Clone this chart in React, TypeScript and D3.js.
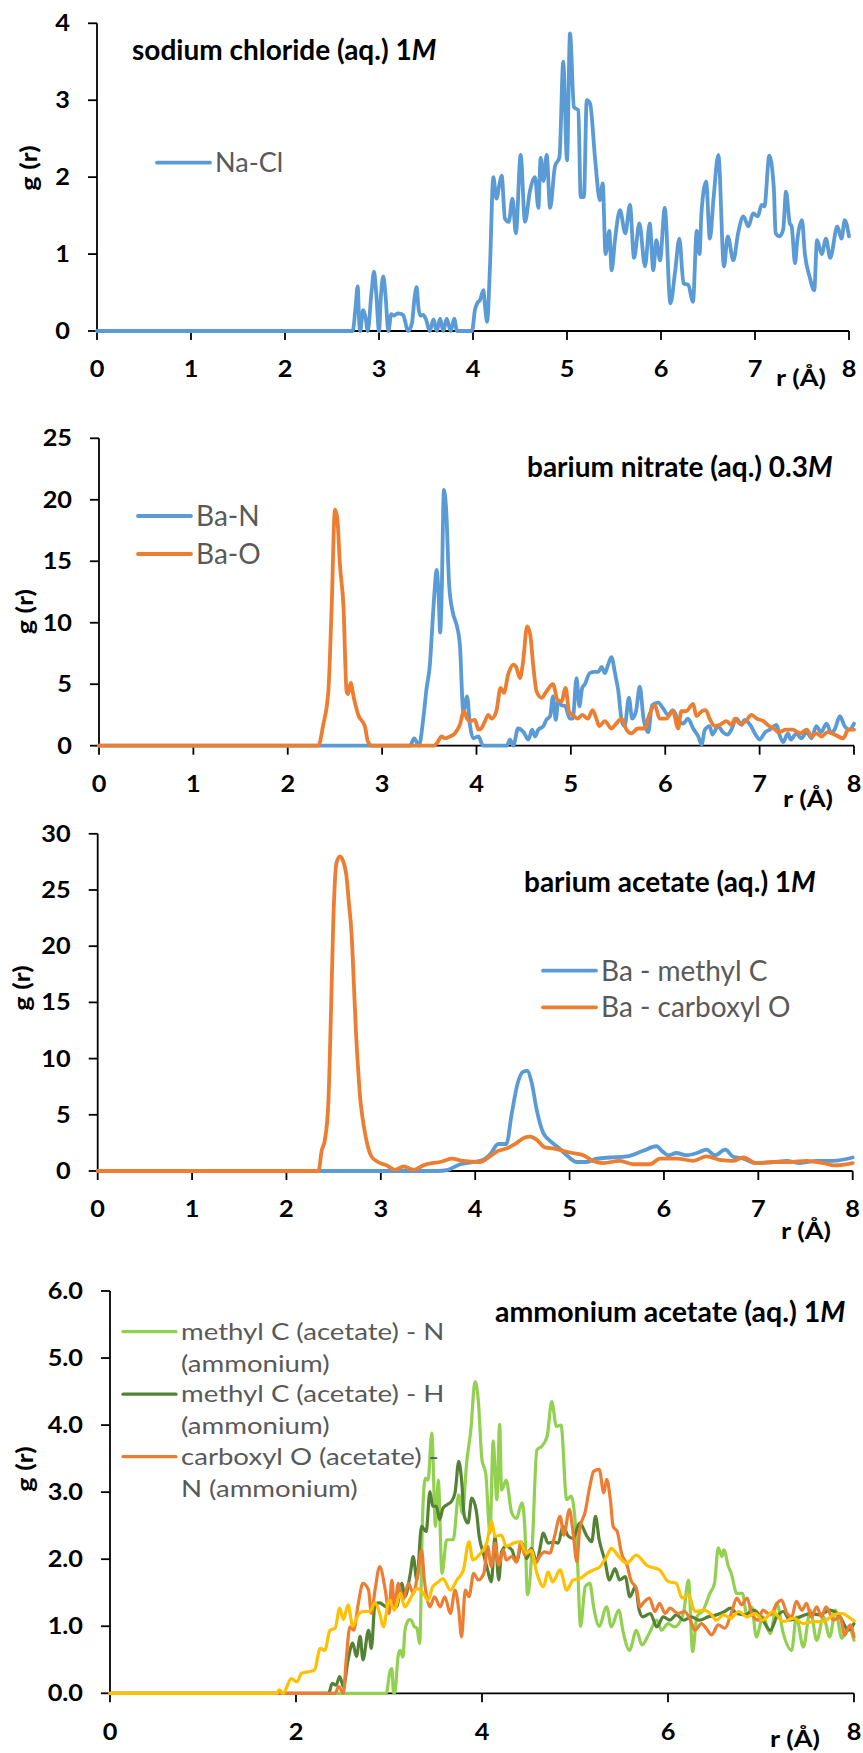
import React from 'react';
import * as d3 from 'd3';

type Pt = [number, number];

// r (Å), g(r)
const naCl: Pt[] = [
  [0, 0], [2.72, 0], [2.75, 0.3], [2.773, 0.58], [2.79, 0.1], [2.8, 0], [2.83, 0.27], [2.86, 0.15], [2.88, 0],
  [2.92, 0.5], [2.947, 0.77], [2.97, 0.5], [3.0, 0], [3.02, 0.45], [3.046, 0.71], [3.07, 0.45], [3.1, 0],
  [3.13, 0.22], [3.16, 0.2], [3.2, 0.23], [3.24, 0.22], [3.26, 0.2], [3.31, 0], [3.35, 0.1], [3.38, 0.45],
  [3.4, 0.57], [3.42, 0.3], [3.44, 0.2], [3.47, 0.21], [3.5, 0.15], [3.54, 0], [3.58, 0.15], [3.614, 0],
  [3.65, 0.16], [3.684, 0], [3.72, 0.16], [3.763, 0], [3.8, 0.16], [3.83, 0], [3.99, 0], [4.02, 0.27],
  [4.05, 0.37], [4.074, 0.4], [4.11, 0.53], [4.13, 0.3], [4.15, 0.12], [4.18, 0.82], [4.216, 2.0],
  [4.25, 1.72], [4.28, 1.9], [4.305, 2.02], [4.34, 1.46], [4.38, 1.42], [4.42, 1.72], [4.456, 1.27],
  [4.507, 2.29], [4.553, 1.42], [4.606, 1.82], [4.66, 2.0], [4.695, 1.6], [4.72, 2.25], [4.75, 1.95],
  [4.784, 2.29], [4.82, 1.6], [4.872, 2.14], [4.92, 2.26], [4.96, 3.5], [5.0, 2.22], [5.032, 3.87],
  [5.074, 2.91], [5.12, 2.87], [5.146, 1.74], [5.18, 1.74], [5.21, 3.0], [5.245, 2.96], [5.3, 2.22],
  [5.35, 1.7], [5.38, 1.92], [5.41, 1.0], [5.45, 1.3], [5.475, 0.79], [5.51, 1.18], [5.564, 1.57],
  [5.62, 1.27], [5.67, 1.64], [5.713, 0.95], [5.77, 1.4], [5.83, 0.84], [5.88, 1.4], [5.918, 0.79],
  [5.95, 1.18], [5.99, 0.92], [6.04, 1.6], [6.1, 0.36], [6.15, 0.77], [6.195, 1.2], [6.24, 0.62],
  [6.29, 0.6], [6.34, 0.38], [6.38, 1.3], [6.41, 1.0], [6.43, 1.53], [6.48, 1.94], [6.52, 1.2],
  [6.56, 1.74], [6.61, 2.29], [6.67, 0.84], [6.71, 1.23], [6.77, 0.92], [6.82, 1.27], [6.876, 1.49],
  [6.93, 1.36], [6.98, 1.53], [7.03, 1.49], [7.07, 1.64], [7.1, 1.62], [7.152, 2.28], [7.2, 1.86],
  [7.22, 1.27], [7.26, 1.23], [7.3, 1.32], [7.33, 1.81], [7.37, 1.4], [7.39, 1.36], [7.426, 0.88],
  [7.45, 1.18], [7.5, 1.44], [7.53, 1.01], [7.58, 0.71], [7.63, 0.53], [7.66, 1.18], [7.71, 1.0],
  [7.755, 1.2], [7.8, 0.95], [7.876, 1.36], [7.92, 1.2], [7.955, 1.44], [8.0, 1.23],
];

const baN: Pt[] = [
  [0, 0], [3.295, 0], [3.34, 0.6], [3.39, 0], [3.436, 2.2], [3.47, 4.6], [3.506, 6.6], [3.53, 9.5],
  [3.555, 12.5], [3.577, 14.3], [3.6, 12], [3.615, 9.2], [3.63, 12], [3.655, 20.8], [3.68, 19.0],
  [3.71, 13.1], [3.747, 10.9], [3.79, 9.8], [3.824, 8.2], [3.86, 2.8], [3.9, 4.0], [3.93, 1.7],
  [3.965, 0.6], [4.02, 0.75], [4.07, 0], [4.32, 0], [4.355, 0.5], [4.39, 0], [4.44, 1.4], [4.5, 1.1],
  [4.55, 0.5], [4.59, 1.3], [4.62, 0.75], [4.655, 1.3], [4.71, 1.6], [4.74, 2.1], [4.78, 2.4], [4.81, 4.0],
  [4.84, 2.1], [4.866, 3.6], [4.9, 3.3], [4.94, 3.2], [4.99, 2.2], [5.02, 2.2], [5.06, 5.5], [5.09, 3.2],
  [5.12, 4.7], [5.148, 5.0], [5.2, 5.9], [5.254, 6.0], [5.29, 6.0], [5.325, 6.4], [5.36, 5.9], [5.395, 6.6],
  [5.43, 7.2], [5.47, 5.8], [5.5, 4.6], [5.54, 2.0], [5.57, 1.6], [5.615, 3.9], [5.65, 2.2], [5.69, 2.8],
  [5.73, 4.8], [5.77, 2.2], [5.82, 1.1], [5.86, 3.3], [5.925, 3.5], [5.98, 3.0], [6.03, 2.5], [6.08, 2.9],
  [6.137, 2.1], [6.19, 1.8], [6.24, 2.2], [6.296, 1.4], [6.35, 0.75], [6.385, 0.1], [6.42, 1.3],
  [6.47, 1.6], [6.5, 0.9], [6.56, 1.6], [6.61, 1.1], [6.66, 0.9], [6.7, 1.3], [6.755, 2.2], [6.81, 1.7],
  [6.84, 2.1], [6.9, 1.7], [6.95, 1.0], [7.0, 0.5], [7.06, 1.1], [7.11, 1.3], [7.18, 1.7], [7.21, 0.9],
  [7.25, 0.3], [7.3, 1.0], [7.33, 0.5], [7.39, 1.0], [7.44, 0.6], [7.5, 1.1], [7.55, 0.6], [7.6, 1.6],
  [7.65, 1.1], [7.71, 1.8], [7.76, 1.0], [7.8, 1.4], [7.85, 2.4], [7.9, 1.6], [7.95, 1.3], [8.0, 1.8],
];

const baO: Pt[] = [
  [0, 0], [2.323, 0], [2.376, 1.7], [2.43, 4.4], [2.465, 11.2], [2.5, 19.2], [2.525, 18.5], [2.553, 14.7],
  [2.59, 11.4], [2.624, 4.4], [2.64, 4.2], [2.666, 5.1], [2.7, 3.9], [2.747, 2.5], [2.818, 1.55],
  [2.85, 0.33], [2.89, 0], [3.55, 0], [3.58, 0.2], [3.63, 0.75], [3.665, 0.6], [3.72, 0.75], [3.77, 1.0],
  [3.824, 1.7], [3.867, 2.8], [3.9, 2.2], [3.93, 2.0], [3.983, 2.1], [4.02, 1.3], [4.05, 1.4], [4.09, 2.0],
  [4.125, 2.5], [4.16, 2.2], [4.21, 2.8], [4.255, 4.7], [4.29, 4.3], [4.336, 5.8], [4.39, 6.6], [4.42, 6.4],
  [4.46, 5.5], [4.49, 6.6], [4.537, 9.7], [4.57, 9.0], [4.6, 6.6], [4.637, 4.4], [4.69, 3.9], [4.74, 4.4],
  [4.81, 5.0], [4.86, 3.7], [4.9, 3.6], [4.944, 4.7], [4.98, 2.8], [5.02, 2.5], [5.07, 2.2], [5.12, 2.5],
  [5.18, 2.2], [5.23, 2.9], [5.27, 2.2], [5.3, 1.6], [5.36, 2.0], [5.43, 1.4], [5.48, 1.8], [5.537, 2.2],
  [5.59, 1.3], [5.64, 1.0], [5.71, 1.4], [5.78, 1.4], [5.83, 2.5], [5.89, 3.3], [5.94, 2.2], [6.01, 2.2],
  [6.08, 2.8], [6.137, 1.4], [6.17, 2.8], [6.22, 2.8], [6.296, 3.4], [6.33, 2.4], [6.385, 2.8], [6.43, 2.9],
  [6.47, 2.2], [6.526, 1.6], [6.58, 1.7], [6.65, 2.0], [6.7, 1.7], [6.74, 2.2], [6.79, 1.8], [6.84, 1.9],
  [6.914, 2.5], [6.97, 2.2], [7.04, 2.0], [7.1, 1.6], [7.15, 1.4], [7.2, 1.1], [7.28, 1.3], [7.35, 1.3],
  [7.43, 1.0], [7.5, 1.3], [7.55, 0.75], [7.6, 1.0], [7.656, 0.75], [7.72, 1.1], [7.796, 0.9],
  [7.885, 0.6], [7.94, 1.3], [8.0, 1.3],
];

const baMethylC: Pt[] = [
  [0, 0], [3.6, 0], [3.71, 0.1], [3.84, 0.6], [3.98, 0.8], [4.086, 1.0], [4.16, 1.5], [4.245, 2.4],
  [4.33, 2.4], [4.387, 5.1], [4.45, 7.8], [4.503, 8.8], [4.55, 8.9], [4.6, 7.8], [4.65, 5.5], [4.72, 3.4],
  [4.79, 2.7], [4.88, 2.1], [4.97, 1.4], [5.075, 0.8], [5.18, 0.8], [5.29, 1.1], [5.43, 1.2], [5.605, 1.3],
  [5.78, 1.8], [5.92, 2.2], [5.99, 1.7], [6.046, 1.4], [6.13, 1.6], [6.24, 1.4], [6.35, 1.6], [6.45, 1.9],
  [6.54, 1.4], [6.65, 1.9], [6.73, 1.3], [6.84, 1.1], [6.98, 0.7], [7.16, 0.8], [7.3, 0.9], [7.44, 0.7],
  [7.62, 0.9], [7.79, 0.9], [8.0, 1.2],
];

const baCarboxylO: Pt[] = [
  [0, 0], [2.34, 0], [2.373, 1.8], [2.408, 2.8], [2.443, 5.9], [2.47, 13.5], [2.497, 22.4], [2.53, 27.4],
  [2.567, 28.0], [2.6, 27.6], [2.635, 26.3], [2.66, 24.0], [2.69, 21.1], [2.715, 16.5], [2.737, 12.3],
  [2.76, 9.0], [2.78, 6.6], [2.805, 4.8], [2.832, 3.4], [2.865, 2.1], [2.9, 1.3], [2.97, 0.8],
  [3.062, 0.5], [3.15, 0.1], [3.24, 0.4], [3.35, 0.1], [3.45, 0.5], [3.54, 0.7], [3.63, 0.8], [3.75, 1.1],
  [3.87, 0.9], [4.05, 0.8], [4.14, 1.2], [4.245, 1.8], [4.33, 2.0], [4.44, 2.5], [4.53, 3.0], [4.58, 3.05],
  [4.65, 2.8], [4.74, 2.1], [4.84, 2.0], [4.93, 1.8], [5.03, 1.6], [5.145, 1.4], [5.25, 0.9], [5.357, 0.7],
  [5.53, 0.9], [5.675, 0.6], [5.85, 0.6], [5.96, 1.1], [6.14, 1.1], [6.31, 0.9], [6.45, 1.3], [6.59, 1.0],
  [6.73, 0.9], [6.84, 1.2], [6.98, 0.7], [7.16, 0.8], [7.33, 0.8], [7.51, 0.9], [7.69, 0.7], [7.81, 0.5],
  [8.0, 0.7],
];

const methylCN: Pt[] = [
  [0, 0], [2.97, 0], [3.01, 0.32], [3.03, 0.37], [3.05, 0], [3.06, 0], [3.1, 0.57], [3.12, 0.64],
  [3.15, 0.54], [3.17, 0.92], [3.19, 1.04], [3.22, 1.1], [3.24, 1.09], [3.27, 1.0], [3.3, 0.97],
  [3.33, 0.74], [3.36, 2.59], [3.39, 3.21], [3.42, 3.18], [3.46, 3.88], [3.5, 2.49], [3.53, 3.18],
  [3.57, 1.79], [3.62, 2.29], [3.69, 2.29], [3.75, 2.96], [3.79, 2.69], [3.835, 3.44], [3.88, 3.93],
  [3.925, 4.65], [3.96, 4.37], [4.0, 3.48], [4.04, 3.28], [4.086, 2.39], [4.12, 3.76], [4.16, 2.89],
  [4.19, 4.01], [4.21, 3.03], [4.26, 3.18], [4.32, 2.69], [4.37, 2.61], [4.43, 2.84], [4.46, 2.49],
  [4.49, 1.47], [4.54, 2.19], [4.59, 3.63], [4.64, 3.68], [4.7, 3.83], [4.75, 4.35], [4.8, 3.98],
  [4.85, 4.0], [4.91, 2.89], [4.96, 2.94], [5.02, 2.19], [5.06, 1.0], [5.11, 1.59], [5.16, 1.64],
  [5.2, 1.29], [5.26, 1.0], [5.34, 1.29], [5.39, 0.99], [5.47, 1.24], [5.52, 0.9], [5.585, 0.64],
  [5.66, 0.94], [5.72, 0.72], [5.8, 0.9], [5.88, 1.09], [5.93, 0.94], [6.0, 1.04], [6.07, 0.99],
  [6.165, 1.19], [6.22, 1.69], [6.265, 0.62], [6.31, 1.14], [6.38, 1.24], [6.45, 1.49], [6.5, 1.64],
  [6.54, 2.17], [6.58, 2.04], [6.6, 2.14], [6.65, 1.89], [6.68, 1.79], [6.74, 1.49], [6.8, 1.49],
  [6.85, 1.14], [6.9, 1.29], [6.95, 0.84], [7.02, 1.14], [7.1, 0.89], [7.17, 1.34], [7.24, 0.89],
  [7.33, 0.64], [7.38, 1.14], [7.455, 0.69], [7.53, 1.24], [7.6, 0.79], [7.67, 1.14], [7.74, 0.84],
  [7.8, 1.24], [7.87, 0.82], [7.94, 0.99], [8.0, 0.79],
];

const methylCH: Pt[] = [
  [0, 0], [2.35, 0], [2.39, 0.15], [2.43, 0.12], [2.47, 0.25], [2.51, 0.1], [2.56, 0.5], [2.61, 0.75],
  [2.65, 0.55], [2.69, 0.85], [2.72, 0.5], [2.78, 0.94], [2.81, 0.67], [2.85, 1.34], [2.9, 1.35],
  [2.97, 1.29], [3.03, 1.34], [3.08, 1.29], [3.14, 1.64], [3.17, 1.44], [3.23, 1.79], [3.26, 2.04],
  [3.3, 1.69], [3.35, 2.49], [3.4, 2.41], [3.44, 3.01], [3.47, 2.79], [3.51, 2.79], [3.545, 2.59],
  [3.58, 2.76], [3.62, 2.81], [3.67, 2.86], [3.71, 2.99], [3.75, 3.46], [3.78, 3.19], [3.81, 2.64],
  [3.85, 2.54], [3.89, 2.91], [3.94, 2.71], [3.97, 2.34], [4.02, 2.06], [4.06, 1.84], [4.1, 1.66],
  [4.14, 2.34], [4.18, 1.69], [4.21, 2.11], [4.26, 2.19], [4.32, 2.14], [4.37, 1.96], [4.43, 2.24],
  [4.48, 2.01], [4.53, 2.16], [4.59, 1.96], [4.62, 2.14], [4.66, 2.39], [4.71, 2.24], [4.77, 2.26],
  [4.82, 2.24], [4.87, 2.49], [4.93, 2.34], [4.98, 2.31], [5.05, 2.54], [5.13, 2.34], [5.18, 2.26],
  [5.22, 2.64], [5.26, 2.29], [5.32, 1.99], [5.37, 1.69], [5.43, 1.86], [5.48, 1.69], [5.54, 1.74],
  [5.59, 1.44], [5.65, 1.59], [5.69, 1.24], [5.73, 1.14], [5.81, 1.19], [5.88, 0.99], [5.95, 1.14],
  [6.02, 1.09], [6.09, 1.17], [6.17, 1.09], [6.25, 1.14], [6.34, 1.09], [6.43, 1.14], [6.52, 1.17],
  [6.61, 1.22], [6.67, 1.27], [6.74, 1.19], [6.83, 1.17], [6.92, 1.24], [7.0, 1.14], [7.1, 0.94],
  [7.17, 1.14], [7.24, 1.22], [7.31, 1.09], [7.42, 1.14], [7.53, 1.19], [7.63, 1.17], [7.74, 1.24],
  [7.85, 1.14], [7.94, 0.94], [8.0, 1.04],
];

const carboxylON: Pt[] = [
  [0, 0], [2.42, 0], [2.46, 0.1], [2.51, 0], [2.54, 0.5], [2.58, 0.99], [2.62, 0.94], [2.67, 1.34],
  [2.72, 1.64], [2.78, 1.54], [2.81, 1.19], [2.85, 1.54], [2.9, 1.89], [2.96, 1.54], [3.0, 1.19],
  [3.03, 1.69], [3.06, 1.29], [3.1, 1.64], [3.15, 1.39], [3.21, 1.64], [3.26, 1.49], [3.31, 1.79],
  [3.35, 2.14], [3.38, 1.69], [3.44, 1.29], [3.49, 1.44], [3.55, 1.29], [3.6, 1.44], [3.66, 1.19],
  [3.71, 1.54], [3.75, 1.24], [3.78, 0.84], [3.82, 1.54], [3.86, 1.44], [3.91, 1.79], [3.96, 1.69],
  [4.02, 1.79], [4.06, 2.19], [4.1, 1.89], [4.14, 2.24], [4.18, 1.91], [4.23, 2.14], [4.26, 1.99],
  [4.32, 2.04], [4.37, 1.96], [4.42, 2.26], [4.46, 2.06], [4.52, 2.14], [4.57, 1.94], [4.62, 2.04],
  [4.67, 2.11], [4.73, 2.09], [4.78, 2.34], [4.84, 2.64], [4.88, 2.36], [4.94, 2.74], [4.98, 2.39],
  [5.02, 1.96], [5.05, 2.44], [5.11, 2.71], [5.16, 3.09], [5.2, 3.31], [5.26, 3.34], [5.31, 2.99],
  [5.34, 3.19], [5.38, 2.89], [5.41, 2.49], [5.455, 2.41], [5.5, 2.09], [5.56, 1.91], [5.6, 1.69],
  [5.66, 1.56], [5.7, 1.29], [5.73, 1.34], [5.8, 1.42], [5.86, 1.22], [5.91, 1.34], [5.97, 1.19],
  [6.02, 1.27], [6.11, 1.19], [6.18, 1.22], [6.24, 1.09], [6.29, 0.94], [6.36, 1.04], [6.41, 0.97],
  [6.47, 0.87], [6.54, 1.02], [6.61, 0.97], [6.68, 1.19], [6.74, 1.42], [6.79, 1.32], [6.85, 1.42],
  [6.9, 1.19], [6.97, 1.09], [7.02, 1.24], [7.1, 1.17], [7.17, 1.34], [7.22, 1.39], [7.28, 1.19],
  [7.33, 1.14], [7.38, 1.37], [7.44, 1.24], [7.49, 1.34], [7.54, 1.14], [7.6, 1.29], [7.65, 1.14],
  [7.7, 1.29], [7.78, 1.09], [7.85, 1.14], [7.9, 0.87], [7.96, 1.02], [8.0, 0.84],
];

// fourth series in the last panel (no legend entry)
const goldSeries: Pt[] = [
  [0, 0], [1.79, 0], [1.82, 0.05], [1.86, 0], [1.95, 0.22], [2.01, 0.17], [2.06, 0.3], [2.13, 0.32],
  [2.2, 0.35], [2.26, 0.67], [2.31, 0.64], [2.365, 0.94], [2.42, 0.97], [2.47, 1.27], [2.51, 1.1],
  [2.56, 1.32], [2.61, 1.0], [2.67, 1.17], [2.72, 1.22], [2.79, 1.22], [2.85, 1.35], [2.9, 1.19],
  [2.94, 0.99], [3.0, 1.39], [3.06, 1.24], [3.12, 1.49], [3.17, 1.29], [3.24, 1.44], [3.3, 1.56],
  [3.37, 1.49], [3.42, 1.39], [3.47, 1.59], [3.53, 1.66], [3.58, 1.71], [3.66, 1.54], [3.73, 1.69],
  [3.8, 1.84], [3.86, 2.26], [3.9, 1.99], [3.98, 2.08], [4.05, 2.24], [4.104, 2.56], [4.14, 2.34],
  [4.21, 2.36], [4.26, 2.19], [4.34, 2.24], [4.41, 2.26], [4.48, 2.09], [4.53, 2.13], [4.59, 1.79],
  [4.66, 1.59], [4.71, 1.81], [4.76, 1.66], [4.84, 1.84], [4.91, 1.54], [4.98, 1.69], [5.05, 1.71],
  [5.13, 1.79], [5.2, 1.84], [5.27, 1.89], [5.34, 2.04], [5.39, 2.16], [5.47, 2.04], [5.555, 1.94],
  [5.66, 2.06], [5.77, 1.91], [5.91, 1.84], [6.0, 1.67], [6.09, 1.64], [6.15, 1.42], [6.22, 1.47],
  [6.29, 1.22], [6.38, 1.24], [6.47, 1.17], [6.52, 1.09], [6.6, 1.17], [6.67, 1.12], [6.76, 1.22],
  [6.85, 1.14], [6.94, 1.19], [7.02, 1.09], [7.13, 1.22], [7.24, 1.07], [7.35, 1.12], [7.455, 1.04],
  [7.56, 1.07], [7.67, 1.07], [7.78, 1.17], [7.87, 1.19], [7.96, 1.12], [8.0, 1.08],
];

const xTicksAll = [0, 1, 2, 3, 4, 5, 6, 7, 8];
const xTicksEven = [0, 2, 4, 6, 8];
const yTicksNaCl = [0, 1, 2, 3, 4];
const yTicksNitrate = [0, 5, 10, 15, 20, 25];
const yTicksAcetate = [0, 5, 10, 15, 20, 25, 30];
const yTicksAmmonium = [0, 1, 2, 3, 4, 5, 6];

const BLUE = '#5B9BD5';
const ORANGE = '#ED7D31';
const LGREEN = '#92D050';
const DGREEN = '#548235';
const GOLD = '#FFC000';

const FONT = "Lato, 'Open Sans', 'DejaVu Sans', sans-serif";

type Series = { data: Pt[]; color: string };
type LegendItem = { color: string; lines: string[] };
type PanelCfg = {
  left: number; right: number; top: number; bottom: number;
  yMax: number; yTicks: number[]; yFmt: (v: number) => string; xTicks: number[];
  sw: number; series: Series[];
  title: string; titleX: number; titleY: number; titleSize: number;
  rX: number; rY: number; gX: number; gY: number;
  legX: number; legY: number; legDy: number; legLineDy: number; legSize: number; legSx: number;
  legend: LegendItem[];
};

const panels: PanelCfg[] = [
  {
    left: 97, right: 849, top: 23.3, bottom: 331, yMax: 4, yTicks: yTicksNaCl, yFmt: (v) => String(v),
    xTicks: xTicksAll, sw: 3.8, series: [{ data: naCl, color: BLUE }],
    title: 'sodium chloride (aq.) 1', titleX: 132, titleY: 60, titleSize: 28,
    rX: 801, rY: 386, gX: 37, gY: 168,
    legX: 157, legY: 162.7, legDy: 38, legLineDy: 0, legSize: 27, legSx: 1,
    legend: [{ color: BLUE, lines: ['Na-Cl'] }],
  },
  {
    left: 99, right: 854, top: 438.3, bottom: 745.7, yMax: 25, yTicks: yTicksNitrate, yFmt: (v) => String(v),
    xTicks: xTicksAll, sw: 3.8, series: [{ data: baN, color: BLUE }, { data: baO, color: ORANGE }],
    title: 'barium nitrate (aq.) 0.3', titleX: 527, titleY: 476.7, titleSize: 28,
    rX: 808, rY: 807, gX: 33, gY: 611.7,
    legX: 138, legY: 516, legDy: 38, legLineDy: 0, legSize: 28, legSx: 1,
    legend: [{ color: BLUE, lines: ['Ba-N'] }, { color: ORANGE, lines: ['Ba-O'] }],
  },
  {
    left: 97.7, right: 852.7, top: 833.8, bottom: 1171, yMax: 30, yTicks: yTicksAcetate, yFmt: (v) => String(v),
    xTicks: xTicksAll, sw: 3.8, series: [{ data: baMethylC, color: BLUE }, { data: baCarboxylO, color: ORANGE }],
    title: 'barium acetate (aq.) 1', titleX: 524, titleY: 891.7, titleSize: 28,
    rX: 806, rY: 1239, gX: 30, gY: 988,
    legX: 543, legY: 970.7, legDy: 36.6, legLineDy: 0, legSize: 28, legSx: 1,
    legend: [{ color: BLUE, lines: ['Ba - methyl C'] }, { color: ORANGE, lines: ['Ba - carboxyl O'] }],
  },
  {
    left: 110, right: 854, top: 1291, bottom: 1693.3, yMax: 6, yTicks: yTicksAmmonium, yFmt: (v) => v.toFixed(1),
    xTicks: xTicksEven, sw: 3.2,
    series: [
      { data: methylCN, color: LGREEN }, { data: methylCH, color: DGREEN },
      { data: carboxylON, color: ORANGE }, { data: goldSeries, color: GOLD },
    ],
    title: 'ammonium acetate (aq.) 1', titleX: 495, titleY: 1321.7, titleSize: 28.5,
    rX: 795, rY: 1747, gX: 33, gY: 1469,
    legX: 123, legY: 1331.7, legDy: 62.5, legLineDy: 31.6, legSize: 23, legSx: 1.2,
    legend: [
      { color: LGREEN, lines: ['methyl C (acetate) - N', '(ammonium)'] },
      { color: DGREEN, lines: ['methyl C (acetate) - H', '(ammonium)'] },
      { color: ORANGE, lines: ['carboxyl O (acetate) -', 'N (ammonium)'] },
    ],
  },
];

const TICK = 9;
const TICK_FS = 22;
const TICK_SX = 1.15;
const AXIS_FS = 23;
const AXIS_SX = 1.18;

function Panel({ cfg }: { cfg: PanelCfg }) {
  const x = d3.scaleLinear().domain([0, 8]).range([cfg.left, cfg.right]);
  const y = d3.scaleLinear().domain([0, cfg.yMax]).range([cfg.bottom, cfg.top]);
  const line = d3
    .line<Pt>()
    .x((d) => x(d[0]))
    .y((d) => y(d[1]))
    .curve(d3.curveMonotoneX);

  return (
    <g>
      {/* axes */}
      <line x1={cfg.left} x2={cfg.left} y1={cfg.bottom} y2={cfg.top} stroke="#000" strokeWidth={1.8} />
      <line x1={cfg.left} x2={cfg.right} y1={cfg.bottom} y2={cfg.bottom} stroke="#000" strokeWidth={1.8} />
      {cfg.yTicks.map((t) => (
        <g key={'y' + t}>
          <line x1={cfg.left - TICK} x2={cfg.left} y1={y(t)} y2={y(t)} stroke="#000" strokeWidth={1.8} />
          <text
            transform={`translate(${cfg.left - 27},${y(t) + 0.36 * TICK_FS}) scale(${TICK_SX},1)`}
            textAnchor="end"
            fontSize={TICK_FS}
            fontWeight="bold"
            fontFamily={FONT}
          >
            {cfg.yFmt(t)}
          </text>
        </g>
      ))}
      {cfg.xTicks.map((t) => (
        <g key={'x' + t}>
          <line x1={x(t)} x2={x(t)} y1={cfg.bottom} y2={cfg.bottom + TICK} stroke="#000" strokeWidth={1.8} />
          <text
            transform={`translate(${x(t)},${cfg.bottom + 38.5 + 0.36 * TICK_FS}) scale(${TICK_SX},1)`}
            textAnchor="middle"
            fontSize={TICK_FS}
            fontWeight="bold"
            fontFamily={FONT}
          >
            {t}
          </text>
        </g>
      ))}
      <text
        transform={`translate(${cfg.rX},${cfg.rY}) scale(${AXIS_SX},1)`}
        textAnchor="middle"
        fontSize={AXIS_FS}
        fontWeight="bold"
        fontFamily={FONT}
      >
        r (Å)
      </text>
      <text
        transform={`translate(${cfg.gX},${cfg.gY}) rotate(-90) scale(${AXIS_SX},1)`}
        textAnchor="middle"
        fontSize={AXIS_FS}
        fontWeight="bold"
        fontFamily={FONT}
      >
        g (r)
      </text>

      {/* series */}
      {cfg.series.map((s, i) => (
        <path
          key={i}
          d={line(s.data) || ''}
          fill="none"
          stroke={s.color}
          strokeWidth={cfg.sw}
          strokeLinejoin="round"
          strokeLinecap="round"
        />
      ))}

      {/* title */}
      <text x={cfg.titleX} y={cfg.titleY} fontSize={cfg.titleSize} fontWeight="bold" fontFamily={FONT}>
        {cfg.title}
        <tspan fontStyle="italic">M</tspan>
      </text>

      {/* legend */}
      {cfg.legend.map((item, i) => {
        const ly = cfg.legY + i * cfg.legDy;
        return (
          <g key={'l' + i}>
            <line x1={cfg.legX} x2={cfg.legX + 53} y1={ly} y2={ly} stroke={item.color} strokeWidth={cfg.sw} strokeLinecap="round" />
            {item.lines.map((t, j) => (
              <text
                key={j}
                transform={`translate(${cfg.legX + 58},${ly + j * cfg.legLineDy + 0.36 * cfg.legSize}) scale(${cfg.legSx},1)`}
                fontSize={cfg.legSize}
                fill="#595959"
                fontFamily={FONT}
              >
                {t}
              </text>
            ))}
          </g>
        );
      })}
    </g>
  );
}

export default function App() {
  return (
    <svg
      width={863}
      height={1753}
      viewBox="0 0 863 1753"
      style={{ position: 'absolute', left: 0, top: 0, background: '#fff' }}
    >
      <rect width={863} height={1753} fill="#fff" />
      {panels.map((p, i) => (
        <Panel key={i} cfg={p} />
      ))}
    </svg>
  );
}
